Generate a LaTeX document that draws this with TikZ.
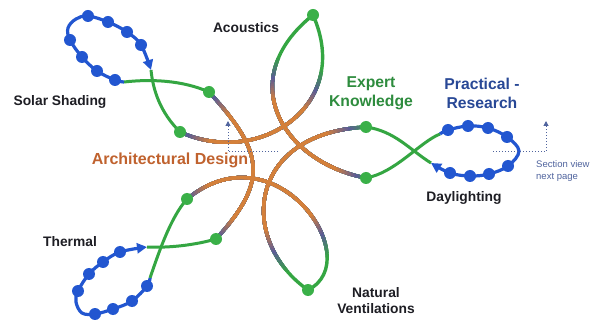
\documentclass[tikz,border=0pt]{standalone}
\usepackage{fontspec}
\setmainfont{Liberation Sans}
\usetikzlibrary{arrows.meta}
\definecolor{gline}{RGB}{52,166,66}
\definecolor{gdotc}{RGB}{58,176,72}
\definecolor{bline}{RGB}{34,86,208}
\definecolor{slatec}{RGB}{92,92,150}
\definecolor{orangec}{RGB}{212,128,58}
\definecolor{txtgreen}{RGB}{46,140,62}
\definecolor{txtblue}{RGB}{40,72,150}
\definecolor{txtorange}{RGB}{192,98,46}
\definecolor{txtdark}{RGB}{30,30,36}
\definecolor{dotline}{RGB}{80,100,158}
\tikzset{
  gdot/.style={circle,fill=gdotc,inner sep=0pt,minimum size=12pt},
  bdot/.style={circle,fill=bline,inner sep=0pt,minimum size=12pt},
  arcline/.style={line width=3.4pt,line cap=round},
  gpath/.style={draw=gline,line width=3pt},
  bpath/.style={draw=bline,line width=3.2pt},
  btip/.style={-{Triangle[length=10pt,width=10pt]}},
  dotarrow/.style={draw=dotline,line width=1pt,dotted,-{Triangle[length=5pt,width=5pt]}},
  lbldark/.style={font=\fontsize{13.8}{16}\selectfont\bfseries,text=txtdark,align=center,inner sep=0pt},
  lblcol/.style={font=\fontsize{15.7}{19}\selectfont\bfseries,align=center,inner sep=0pt},
  lblsmall/.style={font=\fontsize{9.5}{12}\selectfont,text=dotline,align=left,inner sep=0pt}
}
\newcommand{\petalarcs}[1]{%
  \draw[arcline,#1] (ulB) .. controls (260,168) and (353,105) .. (ac);
  \draw[arcline,#1] (ac) .. controls (233,79) and (282,162) .. (rtB);
  \draw[arcline,#1] (rtA) .. controls (246,133) and (238,241) .. (nv);
  \draw[arcline,#1] (llA) .. controls (276,126) and (368,260) .. (nv);
  \draw[arcline,#1] (llB) .. controls (270,180) and (263,151) .. (ulA);
}
\begin{document}
\begin{tikzpicture}[x=1pt,y=-1pt]
\fill[white] (0,0) rectangle (602,320);
\useasboundingbox (0,0) rectangle (602,320);
% key points
\coordinate (ctr) at (270,165);
\coordinate (ac) at (313,15);
\coordinate (nv) at (308,290);
\coordinate (ulA) at (209,92);
\coordinate (ulB) at (180,132);
\coordinate (rtA) at (366,127);
\coordinate (rtB) at (366,178);
\coordinate (llA) at (187,199);
\coordinate (llB) at (216,239);
% petal arcs with colour gradient
\petalarcs{draw=gline}
\foreach \i in {1,...,10}{
  \pgfmathsetmacro\rr{110-2.2*\i}
  \pgfmathtruncatemacro\pp{10*\i}
  \colorlet{ringc}{slatec!\pp!gline}
  \begin{scope}
    \clip (ctr) circle[radius=\rr pt];
    \petalarcs{draw=ringc}
  \end{scope}
}
\foreach \i in {1,...,10}{
  \pgfmathsetmacro\rr{88-2.2*\i}
  \pgfmathtruncatemacro\pp{10*\i}
  \colorlet{ringc}{orangec!\pp!slatec}
  \begin{scope}
    \clip (ctr) circle[radius=\rr pt];
    \petalarcs{draw=ringc}
  \end{scope}
}
% upper-left loop (Solar Shading)
\coordinate (ulJ) at (124,82);
\coordinate (ulK) at (151,70);
\coordinate (u1) at (115,80);
\coordinate (u2) at (97,71);
\coordinate (u3) at (82,57);
\coordinate (u4) at (70,40);
\coordinate (u5) at (88,16);
\coordinate (u6) at (108,22);
\coordinate (u7) at (127,32);
\coordinate (u8) at (141,45);
\draw[gpath] (ulA) .. controls (182,80) and (150,79) .. (ulJ);
\draw[gpath] (ulB) .. controls (160,112) and (153,90) .. (ulK);
\draw[bpath,btip] plot[smooth,tension=0.6] coordinates {(ulJ) (u1) (u2) (u3) (u4) (68,28) (76,19) (u5) (u6) (u7) (u8) (ulK)};
% right loop (Daylighting)
\coordinate (rtJ) at (440,134);
\coordinate (rtK) at (431,163);
\coordinate (r1) at (448,130);
\coordinate (r2) at (468,126);
\coordinate (r3) at (488,128);
\coordinate (r4) at (507,137);
\coordinate (r5) at (508,166);
\coordinate (r6) at (489,174);
\coordinate (r7) at (470,176);
\coordinate (r8) at (450,173);
\draw[gpath] (rtA) .. controls (395,131) and (410,150) .. (rtK);
\draw[gpath] (rtB) .. controls (395,173) and (420,142) .. (rtJ);
\draw[bpath,btip] plot[smooth,tension=0.6] coordinates {(rtJ) (r1) (r2) (r3) (r4) (519,151) (r5) (r6) (r7) (r8) (rtK)};
% lower-left loop (Thermal)
\coordinate (llJ) at (150,278);
\coordinate (llK) at (147,247);
\coordinate (l1) at (147,286);
\coordinate (l2) at (132,301);
\coordinate (l3) at (113,309);
\coordinate (l4) at (95,314);
\coordinate (l5) at (78,291);
\coordinate (l6) at (89,274);
\coordinate (l7) at (103,262);
\coordinate (l8) at (120,252);
\draw[gpath] (llA) .. controls (170,218) and (158,255) .. (llJ);
\draw[gpath] (llB) .. controls (195,245) and (170,248) .. (llK);
\draw[bpath,btip] plot[smooth,tension=0.6] coordinates {(llJ) (l1) (l2) (l3) (l4) (82,313) (76,302) (l5) (l6) (l7) (l8) (llK)};
% dots
\foreach \p in {ac,nv,ulA,ulB,rtA,rtB,llA,llB}{\node[gdot] (d\p) at (\p) {};}
\foreach \p in {u1,u2,u3,u4,u5,u6,u7,u8,r1,r2,r3,r4,r5,r6,r7,r8,l1,l2,l3,l4,l5,l6,l7,l8}{\node[bdot] (d\p) at (\p) {};}
% dotted section arrows
\coordinate (dA) at (278,152);
\coordinate (dB) at (228,152);
\coordinate (dC) at (228,121);
\draw[dotarrow] (dA) -- (dB) -- (dC);
\coordinate (eA) at (493,152);
\coordinate (eB) at (546,152);
\coordinate (eC) at (546,121);
\draw[dotarrow] (eA) -- (eB) -- (eC);
% labels
\node[lbldark] (tAc) at (246,28) {Acoustics};
\node[lbldark] (tSo) at (60,102) {Solar Shading};
\node[lbldark] (tTh) at (70,242) {Thermal};
\node[lbldark] (tDa) at (464,198) {Daylighting};
\node[lbldark] (tNv) at (376,301) {Natural\\Ventilations};
\node[lblcol,text=txtorange,font=\fontsize{16}{19}\selectfont\bfseries] (tAr) at (170,160) {Architectural Design};
\node[lblcol,text=txtgreen] (tEx) at (371,93) {Expert\\Knowledge};
\node[lblcol,text=txtblue] (tPr) at (482,93) {Practical -\\Research};
\node[lblsmall,anchor=west] (tSe) at (536,171) {Section view\\next page};
\end{tikzpicture}
\end{document}
